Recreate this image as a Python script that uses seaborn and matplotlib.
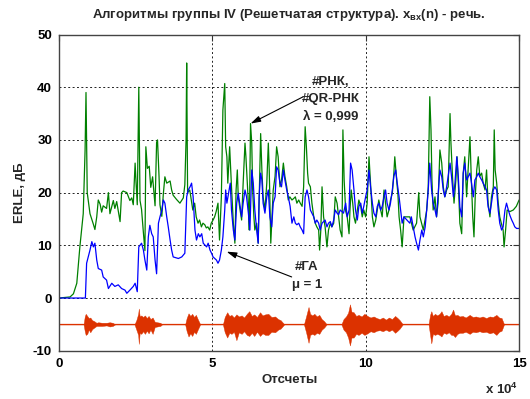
import numpy as np
import pandas as pd
import matplotlib
matplotlib.use("Agg")
import matplotlib.pyplot as plt
import seaborn as sns

# ---------------- data (x in units of 10^4 samples) ----------------
green_x = [0.00, 0.36, 0.47, 0.58, 0.68, 0.79, 0.85, 0.88, 0.92, 1.01, 1.12, 1.17, 1.23, 1.28, 1.34,
           1.39, 1.44, 1.55, 1.61, 1.66, 1.77, 1.82, 1.88, 1.99, 2.04, 2.09, 2.21, 2.31, 2.37, 2.42,
           2.48, 2.51, 2.55, 2.60, 2.64, 2.69, 2.75, 2.80, 2.83, 2.88, 2.94, 2.99, 3.05, 3.13, 3.18,
           3.21, 3.26, 3.29, 3.35, 3.40, 3.45, 3.51, 3.62, 3.67, 3.72, 3.83, 3.94, 4.05, 4.10, 4.14,
           4.16, 4.19, 4.26, 4.31, 4.36, 4.42, 4.47, 4.53, 4.58, 4.64, 4.69, 4.75, 4.80, 4.85, 4.91,
           4.96, 5.02, 5.07, 5.12, 5.18, 5.23, 5.29, 5.34, 5.40, 5.43, 5.47, 5.50, 5.56, 5.62, 5.68,
           5.73, 5.77, 5.81, 5.84, 5.90, 5.95, 6.00, 6.06, 6.09, 6.13, 6.17, 6.20, 6.24, 6.28, 6.31,
           6.35, 6.38, 6.44, 6.49, 6.52, 6.57, 6.61, 6.65, 6.71, 6.77, 6.82, 6.85, 6.90, 6.94, 6.98,
           7.04, 7.09, 7.14, 7.20, 7.25, 7.31, 7.36, 7.42, 7.47, 7.52, 7.59, 7.65, 7.70, 7.75, 7.81,
           7.86, 7.92, 7.97, 8.02, 8.06, 8.10, 8.13, 8.19, 8.24, 8.30, 8.35, 8.40, 8.46, 8.49, 8.53,
           8.57, 8.62, 8.67, 8.73, 8.78, 8.84, 8.89, 8.95, 9.00, 9.06, 9.11, 9.16, 9.22, 9.25, 9.29,
           9.34, 9.39, 9.45, 9.48, 9.52, 9.57, 9.61, 9.66, 9.72, 9.77, 9.83, 9.88, 9.93, 9.99, 10.04,
           10.10, 10.15, 10.21, 10.26, 10.32, 10.37, 10.42, 10.48, 10.53, 10.59, 10.64, 10.69, 10.75,
           10.80, 10.86, 10.91, 10.94, 11.00, 11.04, 11.08, 11.13, 11.18, 11.24, 11.43, 11.54, 11.65,
           11.72, 11.76, 11.87, 11.98, 12.03, 12.08, 12.12, 12.15, 12.19, 12.25, 12.30, 12.35, 12.41,
           12.47, 12.52, 12.57, 12.63, 12.68, 12.74, 12.77, 12.82, 12.87, 12.93, 12.97, 13.02, 13.06,
           13.12, 13.17, 13.22, 13.28, 13.33, 13.39, 13.43, 13.48, 13.52, 13.56, 13.61, 13.66, 13.71,
           13.77, 13.82, 13.88, 13.93, 13.98, 14.04, 14.09, 14.15, 14.18, 14.21, 14.26, 14.31, 14.36,
           14.41, 14.47, 14.50, 14.55, 14.60, 14.69, 14.80, 14.90, 14.99]
green_erle = [0, 0.2, 0.8, 2.8, 9.7, 16, 28, 39, 20, 16, 14, 13, 15.4, 18.6, 17.8,
              16.3, 17.5, 17, 20, 16, 18.5, 17, 18.3, 14.5, 20, 20.3, 20, 18.5, 19, 17.7,
              25.6, 22, 17.7, 40, 18.5, 16.8, 12.4, 9, 28.7, 24.6, 25, 21, 23, 17.5, 29.5,
              30, 23, 17.7, 15.5, 19.8, 23, 21.8, 22.2, 20.5, 19.5, 18.7, 18, 19, 21.5, 30,
              44.6, 20, 20.5, 18.6, 16.7, 18, 15.4, 14.2, 14.8, 13.5, 14.2, 13.9, 13.3, 13.5, 12.9,
              14.2, 14.8, 15.4, 16.4, 18, 11, 19.2, 35.7, 40.7, 28.7, 26.8, 21.8, 28.7, 21.1, 14.2,
              10.4, 20.5, 24.3, 19.2, 16.7, 14.8, 21.8, 29.4, 26.8, 22.4, 18, 12.9, 33.1, 29.4, 20.5,
              15.4, 12.9, 14.2, 10.4, 18, 31.2, 24.3, 19.2, 16.7, 21.8, 29.4, 24.3, 10.4, 15.4, 20.5,
              23.1, 28.7, 26.8, 21.1, 22.4, 25.6, 23.1, 21.1, 18.6, 19.2, 18.6, 18.9, 19.2, 18, 18.6,
              18, 17.4, 21.1, 32.5, 28.7, 23.7, 21.8, 21.1, 18, 15.4, 14.2, 13.5, 12.9, 9.1, 12.9,
              21.1, 15.4, 13.5, 9.7, 12.9, 14.2, 13.5, 14.2, 19.2, 18, 15.4, 12.9, 11.6, 31.9, 22.4,
              16.5, 15.4, 12.2, 16.7, 20.5, 18, 15.4, 14.2, 16.7, 18.6, 17.4, 15.4, 16.7, 15.4, 18,
              26.8, 21.8, 15.4, 13.5, 14.8, 16.7, 18.6, 16.7, 15.4, 20.5, 18, 15.4, 16.7,
              18.6, 19.9, 23.7, 26.8, 22.4, 19.9, 15.4, 12.9, 9.7, 15.4, 15.4, 12.9, 14.2,
              20, 15.4, 12.9, 16.7, 21.1, 38.2, 31.9, 22.4, 16.7, 19.2, 15.4, 18, 28.1,
              25.6, 21.1, 19.2, 20.5, 21.1, 35, 29.4, 23.1, 18, 22.4, 26.8, 20.5, 14.2,
              12.2, 23.7, 26.8, 19.2, 24.3, 30.6, 23.1, 15.4, 11.6, 19.2, 24.3, 26.8, 23.1,
              23.7, 21.8, 20.5, 24.3, 18, 15.4, 19.2, 21.1, 31.9, 24.3, 21.8, 18, 15.4,
              14.2, 12.9, 9.7, 12.9, 16.7, 16.4, 16.7, 17.4, 18.6]

blue_x = [0.00, 0.86, 0.90, 1.01, 1.07, 1.12, 1.17, 1.23, 1.28, 1.39, 1.44, 1.55, 1.61, 1.72, 1.82,
          1.93, 2.04, 2.15, 2.21, 2.31, 2.42, 2.48, 2.55, 2.60, 2.69, 2.75, 2.80, 2.86, 2.91, 2.96,
          3.02, 3.07, 3.13, 3.18, 3.24, 3.29, 3.35, 3.40, 3.45, 3.51, 3.56, 3.62, 3.67, 3.72, 3.89,
          4.00, 4.10, 4.16, 4.21, 4.27, 4.32, 4.37, 4.43, 4.48, 4.54, 4.59, 4.65, 4.70, 4.81, 4.86,
          4.92, 4.97, 5.02, 5.13, 5.18, 5.23, 5.29, 5.34, 5.40, 5.43, 5.47, 5.54, 5.58, 5.62, 5.68,
          5.73, 5.79, 5.84, 5.90, 5.95, 6.00, 6.06, 6.11, 6.17, 6.22, 6.28, 6.33, 6.38, 6.44, 6.49,
          6.52, 6.57, 6.61, 6.65, 6.71, 6.77, 6.82, 6.87, 6.93, 6.98, 7.04, 7.09, 7.14, 7.20, 7.25,
          7.31, 7.36, 7.42, 7.47, 7.53, 7.59, 7.65, 7.70, 7.75, 7.81, 7.86, 7.92, 7.97, 8.02, 8.08,
          8.13, 8.19, 8.24, 8.30, 8.35, 8.40, 8.46, 8.51, 8.57, 8.62, 8.67, 8.73, 8.78, 8.84, 8.89,
          8.95, 9.00, 9.06, 9.11, 9.16, 9.22, 9.27, 9.34, 9.39, 9.45, 9.50, 9.55, 9.61, 9.66, 9.72,
          9.77, 9.83, 9.88, 9.93, 9.99, 10.04, 10.10, 10.15, 10.21, 10.26, 10.32, 10.37, 10.42, 10.48,
          10.53, 10.59, 10.64, 10.69, 10.75, 10.80, 10.86, 10.91, 10.97, 11.02, 11.08, 11.13, 11.18,
          11.24, 11.43, 11.48, 11.54, 11.60, 11.65, 11.71, 11.76, 11.82, 11.87, 11.93, 11.98, 12.03,
          12.08, 12.14, 12.19, 12.25, 12.30, 12.41, 12.47, 12.52, 12.57, 12.63, 12.74, 12.79, 12.85,
          12.90, 12.96, 13.01, 13.06, 13.12, 13.17, 13.22, 13.28, 13.33, 13.39, 13.44, 13.50, 13.55,
          13.61, 13.66, 13.71, 13.77, 13.82, 13.88, 13.93, 13.98, 14.04, 14.09, 14.15, 14.20, 14.26,
          14.31, 14.36, 14.42, 14.47, 14.53, 14.58, 14.64, 14.69, 14.75, 14.80, 14.85, 14.91, 14.99]
blue_erle = [0, 0, 6.6, 9.1, 10.7, 9.7, 10.4, 7.2, 5.6, 5.3, 4, 3.4, 1.8, 2.8, 2.2,
             2.5, 1.8, 1.5, 0.9, 1.5, 2.2, 2.8, 1.2, 9.7, 10.4, 9.1, 7.2, 5.3, 11.6, 13.8,
             12.2, 11.6, 7.2, 4.6, 14.2, 15.4, 16.7, 18.6, 18, 15.4, 13.5, 11, 9.1, 7.8, 7.5,
             7.8, 8.5, 19.2, 20.5, 21.1, 21.8, 19.2, 12.9, 11, 12.2, 11.6, 12.2, 10.4, 9.7, 10.4,
             9.1, 8.5, 7.8, 7.2, 6.6, 7.2, 9.1, 11.6, 16.7, 20.5, 18, 20.5, 21.8, 16.7, 12.9,
             11, 18, 19.9, 17.4, 15.4, 18, 20.5, 19.2, 16.1, 12.9, 24.3, 21.8, 16.7, 12.9, 10.4,
             19.2, 23.7, 22.4, 18, 16.1, 19.2, 20.5, 15.4, 13.5, 18, 19.2, 24.9, 24.3, 21.8, 21.1,
             24.3, 22.4, 20.5, 19.2, 17.4, 14.2, 15.4, 14.2, 13.9, 14.2, 13.5, 12.9, 12.2, 19.2, 20.5,
             19.2, 16.7, 16.1, 15.4, 14.2, 14.8, 14.2, 12.9, 14.2, 14.5, 14.8, 13.5, 14.2, 14.5, 13.5,
             14.8, 16.7, 16.1, 15.8, 16.7, 16.4, 16.1, 18, 15.4, 16.7, 25.6, 24.3, 20.5, 16.7, 14.8,
             17.4, 18, 16.1, 17.4, 19.2, 20.5, 24.3, 21.1, 18, 16.1, 15.4, 17.4, 18, 16.7,
             17.4, 19.2, 20.5, 18, 16.7, 18, 20.5, 23.1, 24.3, 21.8, 19.2, 16.7, 14.2,
             15.4, 14.2, 15.4, 13.5, 11.6, 10.4, 9.1, 11, 12.9, 11.6, 13.5, 16.7, 20.5,
             25.6, 20.5, 18, 16.7, 15.4, 24.3, 23, 20.5, 19.2, 21.1, 25.6, 23, 19.2,
             21.8, 26.8, 23, 17.3, 15.4, 23.7, 25.6, 22.4, 23, 23.7, 21.8, 19.2, 22.4,
             23, 23.7, 23, 22.4, 21.8, 21.1, 20.5, 17.3, 16.1, 18, 20.5, 21.1, 20.5,
             16.7, 14.2, 12.9, 13.5, 16.7, 18, 16.7, 15.7, 14.8, 14.2, 13.5, 13.2, 13.2]

# speech signal x_in(n), drawn shifted to -5 dB: envelope above / below the baseline
speech_offset = -5
speech_x = [0.00, 0.80, 0.84, 0.87, 0.92, 0.97, 1.02, 1.08, 1.15, 1.22, 1.28, 1.40, 1.55, 1.65, 1.75, 1.83,
            2.46, 2.52, 2.58, 2.60, 2.63, 2.68, 2.74, 2.80, 2.86, 2.92, 2.98, 3.05, 3.12, 3.20, 3.30, 3.36,
            4.11, 4.16, 4.22, 4.28, 4.34, 4.40, 4.46, 4.52, 4.60,
            5.34, 5.40, 5.48, 5.55, 5.62, 5.70, 5.78, 5.86, 5.95, 6.03, 6.12, 6.20, 6.28, 6.36, 6.45,
            6.55, 6.63, 6.72, 6.82, 6.92, 7.04, 7.14, 7.22, 7.34,
            7.98, 8.05, 8.13, 8.18, 8.25, 8.32, 8.40, 8.48, 8.56, 8.64, 8.72,
            9.20, 9.27, 9.35, 9.42, 9.48, 9.53, 9.60, 9.68, 9.76, 9.86, 9.95, 10.05, 10.15, 10.25,
            10.35, 10.45, 10.55, 10.65, 10.75, 10.85, 10.95, 11.03, 11.10, 11.20,
            12.04, 12.09, 12.13, 12.18, 12.25, 12.32, 12.40, 12.46, 12.53, 12.62, 12.70, 12.78, 12.84,
            12.90, 12.98, 13.05, 13.15, 13.25, 13.38, 13.48, 13.58, 13.70, 13.80, 13.92, 14.03, 14.14,
            14.25, 14.34, 14.42, 14.50, 15.00]
speech_up = [0, 0, 1.5, 2.0, 1.6, 1.2, 1.3, 0.8, 0.6, 0.3, 0.4, 0.3, 0.3, 0.4, 0.3, 0,
             0, 0.8, 2.0, 3.0, 1.5, 1.7, 1.4, 1.7, 1.2, 1.6, 1.0, 1.3, 0.5, 0.4, 0.3, 0,
             0, 1.2, 2.1, 1.6, 2.0, 1.4, 1.8, 1.0, 0,
             0, 1.4, 2.3, 1.6, 1.8, 1.3, 1.9, 1.5, 1.7, 1.3, 2.0, 2.5, 1.6, 1.9, 1.4,
             2.3, 1.7, 1.9, 2.0, 1.4, 1.5, 1.0, 0.8, 0,
             0, 1.5, 3.3, 2.0, 1.7, 2.0, 1.5, 1.8, 1.0, 0.6, 0,
             0, 1.0, 1.5, 2.2, 3.8, 2.4, 2.3, 1.6, 1.8, 1.5, 2.0, 1.6, 1.3, 1.5,
             1.2, 1.0, 1.3, 0.9, 1.3, 1.0, 1.6, 1.2, 0.8, 0,
             0, 1.8, 2.5, 1.6, 2.0, 1.7, 2.0, 2.5, 1.6, 1.8, 1.5, 2.0, 2.8,
             1.7, 1.8, 1.5, 1.6, 1.3, 1.8, 1.4, 1.5, 1.3, 1.5, 1.2, 1.5, 1.4,
             1.8, 1.3, 1.2, 0, 0]
speech_dn = [0, 0, 1.3, 2.0, 1.8, 1.0, 1.5, 0.9, 0.6, 0.3, 0.3, 0.3, 0.2, 0.4, 0.3, 0,
             0, 1.0, 2.0, 3.7, 1.6, 1.8, 1.3, 1.8, 1.2, 1.7, 1.0, 1.8, 0.5, 0.4, 0.3, 0,
             0, 1.3, 2.3, 1.7, 2.2, 1.4, 1.8, 1.0, 0,
             0, 1.5, 2.5, 1.6, 1.8, 1.4, 3.0, 1.5, 1.8, 1.3, 2.0, 2.2, 1.6, 2.2, 1.4,
             2.2, 1.7, 2.0, 2.0, 1.4, 1.5, 1.0, 0.8, 0,
             0, 1.5, 3.5, 2.0, 1.8, 2.0, 1.6, 1.8, 1.0, 0.6, 0,
             0, 1.0, 1.5, 2.5, 4.0, 2.5, 2.5, 1.8, 2.0, 1.6, 2.0, 1.7, 1.3, 1.5,
             1.2, 1.1, 1.3, 1.0, 1.3, 1.0, 1.6, 1.2, 0.8, 0,
             0, 2.0, 3.6, 1.8, 2.0, 1.8, 2.0, 2.3, 1.6, 1.8, 1.5, 2.0, 2.0,
             2.4, 1.8, 1.6, 1.6, 1.4, 1.8, 1.4, 1.5, 1.3, 1.5, 1.4, 1.7, 1.5,
             2.0, 1.4, 1.2, 0, 0]

x_ticks = [0, 5, 10, 15]
y_ticks = [-10, 0, 10, 20, 30, 40, 50]

title_text = "Алгоритмы группы IV (Решетчатая структура). x$_{\\mathregular{вх}}$(n) - речь."
xlabel_text = "Отсчеты"
ylabel_text = "ERLE, дБ"

# ---------------- plotting ----------------
sns.set_style("white")
plt.rcParams["font.family"] = ["Liberation Sans", "DejaVu Sans"]
plt.rcParams["mathtext.fontset"] = "custom"
plt.rcParams["mathtext.rm"] = "Liberation Sans"
plt.rcParams["mathtext.bf"] = "Liberation Sans:bold"

FS = 9.5

fig = plt.figure(figsize=(5.30, 3.99), dpi=100)
fig.patch.set_facecolor("white")
ax = fig.add_axes([0.1113, 0.121, 0.8687, 0.7925])

green_df = pd.DataFrame({"x": green_x, "erle": green_erle})
blue_df = pd.DataFrame({"x": blue_x, "erle": blue_erle})
speech_df = pd.DataFrame({"x": speech_x, "up": speech_up, "dn": speech_dn})
speech_df["hi"] = speech_offset + speech_df["up"]
speech_df["lo"] = speech_offset - speech_df["dn"]
speech_df["mid"] = speech_offset

red = "#dc3200"
sns.lineplot(data=speech_df, x="x", y="mid", ax=ax, color=red, lw=0.9,
             estimator=None, sort=False)
ax.fill_between(speech_df["x"], speech_df["lo"], speech_df["hi"], color=red, lw=0.3,
                edgecolor=red)
sns.lineplot(data=green_df, x="x", y="erle", ax=ax, color="#008000", lw=0.9,
             estimator=None, sort=False)
sns.lineplot(data=blue_df, x="x", y="erle", ax=ax, color="#0000ff", lw=0.9,
             estimator=None, sort=False)

ax.set_xlim(0, 15)
ax.set_ylim(-10, 50)
ax.set_xticks(x_ticks)
ax.set_yticks(y_ticks)
ax.set_xticklabels([str(t) for t in x_ticks])
ax.set_yticklabels([str(t) for t in y_ticks])
ax.set_xlabel("")
ax.set_ylabel("")
ax.tick_params(direction="in", length=4, width=0.8, color="#333333",
               top=True, right=True, labelsize=FS, pad=5, labelcolor="black")
for lab in ax.get_xticklabels() + ax.get_yticklabels():
    lab.set_fontweight("bold")
for sp in ax.spines.values():
    sp.set_visible(True)
    sp.set_color("#444444")
    sp.set_linewidth(1.0)
ax.grid(True, color="#222222", linestyle=(0, (2, 2.5)), linewidth=0.7)
ax.set_axisbelow(True)

fig.text(0.5458, 0.962, title_text, ha="center", va="center", fontsize=FS, fontweight="bold")
fig.text(0.5458, 0.047, xlabel_text, ha="center", va="center", fontsize=FS, fontweight="bold")
fig.text(0.038, 0.516, ylabel_text, ha="center", va="center", rotation=90, fontsize=FS,
         fontweight="bold")
fig.text(0.978, 0.006, "x 10$^{\\mathregular{4}}$", ha="right", va="bottom", fontsize=FS,
         fontweight="bold")

arrow_kw = dict(arrowstyle="-|>,head_length=0.6,head_width=0.18", color="black", lw=0.8,
                shrinkA=0, shrinkB=0)
ax.annotate("", xy=(6.24, 33.1), xytext=(7.96, 38.2), arrowprops=arrow_kw)
ax.annotate("", xy=(5.46, 8.8), xytext=(7.58, 4.0), arrowprops=arrow_kw)
ax.text(8.86, 41.0, "#РНК,", ha="center", va="center", fontsize=FS, fontweight="bold")
ax.text(8.86, 37.8, "#QR-РНК", ha="center", va="center", fontsize=FS, fontweight="bold")
ax.text(8.86, 34.4, "λ = 0,999", ha="center", va="center", fontsize=FS, fontweight="bold")
ax.text(8.07, 5.8, "#ГА", ha="center", va="center", fontsize=FS, fontweight="bold")
ax.text(8.08, 2.4, "μ = 1", ha="center", va="center", fontsize=FS, fontweight="bold")

fig.savefig("out.png", dpi=100, facecolor="white")
